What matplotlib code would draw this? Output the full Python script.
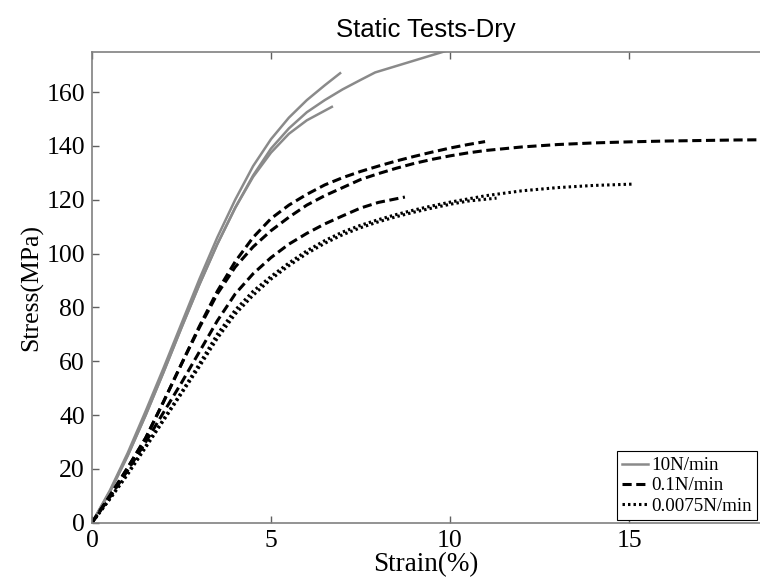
import matplotlib
matplotlib.use("Agg")
import matplotlib.pyplot as plt

GRAY = "#8a8a8a"
SERIF = ["Liberation Serif", "DejaVu Serif"]

# 10N/min (grey solid)
g1_x = [0, 0.5, 1, 1.5, 2, 2.5, 3, 3.5, 4, 4.5, 5, 5.5, 6, 6.5, 6.93]
g1_y = [0, 12, 26, 41.5, 57.5, 74, 90.5, 106, 120, 132.5, 142.5, 150.5, 157, 162.5, 167]
g2_x = [0, 0.5, 1, 1.5, 2, 2.5, 3, 3.5, 4, 4.5, 5, 5.5, 6, 6.5, 7, 7.5, 7.91, 9.94]
g2_y = [0, 11.5, 25, 40, 56, 72.5, 88.5, 103.5, 117, 129, 139, 146.5, 152.5, 157, 161, 164.5, 167.3, 175.5]
g3_x = [0, 0.5, 1, 1.5, 2, 2.5, 3, 3.5, 4, 4.5, 5, 5.5, 6, 6.7]
g3_y = [0, 11.5, 25, 40, 56, 72.5, 88.5, 103.5, 117, 128.5, 137.5, 144.5, 149.5, 154.5]

# 0.1N/min (black dashed)
d1_x = [0, 0.5, 1, 1.5, 2, 2.5, 3, 3.5, 4, 4.5, 5, 5.5, 6, 6.5, 7, 7.5, 8, 8.5, 9, 9.5, 10, 10.5, 10.98]
d1_y = [0, 10, 20.5, 31.5, 45, 59, 73, 86, 97, 106, 113, 118, 122, 125.5, 128.2, 130.5, 132.5, 134.4,
        136.1, 137.7, 139.2, 140.5, 141.6]
d2_x = [0, 0.5, 1, 1.5, 2, 2.5, 3, 3.5, 4, 4.5, 5, 5.5, 6, 6.5, 7, 7.5, 8, 8.5, 9, 9.5, 10, 10.5, 11,
        12, 13, 14, 15, 16, 17, 18, 19]
d2_y = [0, 10, 20.5, 31.5, 45, 59, 72.5, 85, 95, 102.5, 108.5, 113.5, 118, 121.5, 124.5, 127.5, 129.7,
        131.7, 133.5, 135, 136.3, 137.4, 138.3, 139.6, 140.5, 141.1, 141.5, 141.8, 142, 142.2, 142.3]
d3_x = [0, 0.5, 1, 1.5, 2, 2.5, 3, 3.5, 4, 4.5, 5, 5.5, 6, 6.5, 7, 7.5, 8, 8.74]
d3_y = [0, 9.5, 19.5, 30, 41, 52, 63.5, 75, 85, 92.5, 98.5, 103.5, 107.5, 111, 114, 116.9, 119, 121]

# 0.0075N/min (black dotted)
p1_x = [0, 0.5, 1, 1.5, 2, 2.5, 3, 3.5, 4, 4.5, 5, 5.5, 6, 6.5, 7, 7.5, 8, 8.5, 9, 9.5, 10,
        11, 12, 13, 14, 15.1]
p1_y = [0, 9, 18.5, 28.5, 38.5, 48.5, 59, 70, 79, 86, 91.5, 96.5, 101, 104.8, 108, 110.5, 112.6,
        114.5, 116.2, 117.7, 119.1, 121.5, 123.3, 124.5, 125.3, 125.8]
p2_x = [0, 0.5, 1, 1.5, 2, 2.5, 3, 3.5, 4, 4.5, 5, 5.5, 6, 6.5, 7, 7.5, 8, 8.5, 9, 9.5, 10, 10.5, 11.3]
p2_y = [0, 8.8, 18, 28, 38, 48, 58, 68.5, 77.5, 84.5, 90.5, 95.5, 100, 103.8, 107, 109.6, 111.8,
        113.7, 115.4, 116.9, 118.3, 119.5, 120.6]

fig = plt.figure(figsize=(7.6, 5.83), dpi=100)
ax = fig.add_axes([92 / 760, 1 - 522.7 / 583, 678 / 760, 471 / 583])

ax.plot(g1_x, g1_y, color=GRAY, lw=1.8, label="10N/min")
ax.plot(g2_x, g2_y, color=GRAY, lw=1.8)
ax.plot(g3_x, g3_y, color=GRAY, lw=1.8)

ax.plot(d1_x, d1_y, color="black", lw=2.2, dashes=(3.0, 1.5), label="0.1N/min")
ax.plot(d2_x, d2_y, color="black", lw=2.2, dashes=(3.0, 1.5))
ax.plot(d3_x, d3_y, color="black", lw=2.2, dashes=(3.0, 1.5))

ax.plot(p1_x, p1_y, color="black", lw=2.2, dashes=(0.8, 1.0), label="0.0075N/min")
ax.plot(p2_x, p2_y, color="black", lw=2.2, dashes=(0.8, 1.0))

ax.set_xlim(0, 678 / 35.8)
ax.set_ylim(0, 175)
ax.set_xticks([0, 5, 10, 15])
ax.set_yticks(range(0, 161, 20))

for s in ax.spines.values():
    s.set_color("#808080")
    s.set_linewidth(1.2)
ax.tick_params(direction="in", length=5, width=1, color="#606060",
               top=True, right=True, labelsize=18.5, pad=5)
for lab in ax.get_xticklabels() + ax.get_yticklabels():
    lab.set_family(SERIF)

ax.set_xlabel("Strain(%)", family=SERIF, fontsize=19.5, labelpad=0)
ax.set_ylabel("Stress(MPa)", family=SERIF, fontsize=18.5, labelpad=2)
ax.xaxis.set_label_coords((426 - 92) / 678, -0.062)

fig.text(426 / 760, 1 - 30 / 583, "Static Tests-Dry", family="Liberation Sans",
         fontsize=18.5, ha="center", va="center")

leg = ax.legend(loc="lower right", bbox_to_anchor=(0.981, 0.005), borderaxespad=0,
                prop={"family": SERIF, "size": 13.7}, fancybox=False, framealpha=1,
                edgecolor="black", handlelength=1.35, handletextpad=0.15,
                labelspacing=0.15, borderpad=0.3)
leg.get_frame().set_linewidth(0.8)

fig.savefig("out.png", dpi=100, facecolor="white")
